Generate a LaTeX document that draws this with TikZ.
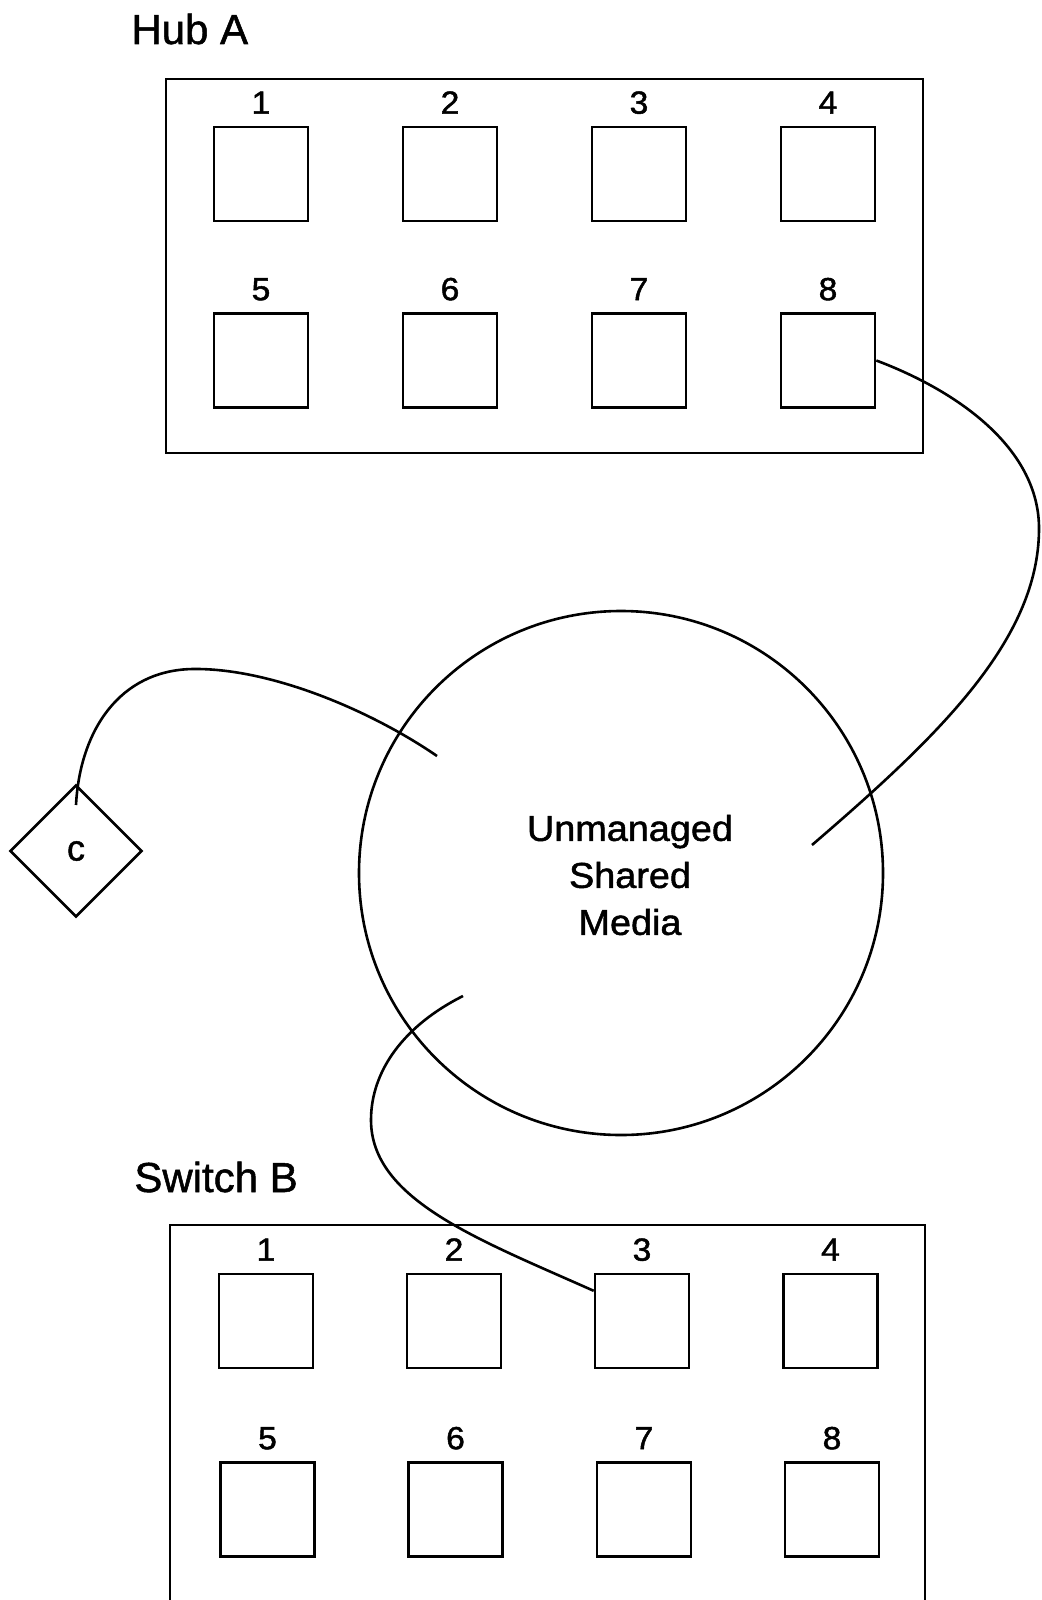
\documentclass[tikz,border=0pt]{standalone}
\usepackage{fontspec}
\setmainfont[FakeBold=1.4]{Liberation Sans}
\newfontfamily\widefont[FakeStretch=1.05,FakeBold=1.4]{Liberation Sans}
\newfontfamily\boldishfont[FakeBold=1.2]{Liberation Sans}
\usetikzlibrary{shapes.geometric,calc}
\begin{document}
\begin{tikzpicture}[x=0.5pt,y=-0.5pt,
  port/.style={draw, line width=1.3pt, minimum width=47pt, minimum height=47pt, inner sep=0pt},
  frame/.style={draw, line width=1.3pt, inner sep=0pt},
  num/.style={inner sep=0pt, anchor=base, font=\widefont\fontsize{16pt}{18pt}\selectfont},
  title/.style={inner sep=0pt, anchor=base west, font=\boldishfont\fontsize{21pt}{25pt}\selectfont},
  wire/.style={line width=1.3pt}]
\clip (0,0) rectangle (1042,1600);
% Hub A
\node[title] (hubA) at (131,44) {Hub A};
\node[frame, minimum width=378.5pt, minimum height=187pt] (hub) at (544.5,266) {};
\foreach \i/\x/\y in {1/261/174,2/450/174,3/639/174,4/828/174,5/261/360.5,6/450/360.5,7/639/360.5,8/828/360.5}{
  \node[port] (h\i) at (\x,\y) {};
  \node[num] (hl\i) at ($(h\i.north)+(0,-12)$) {\i};
}
% Switch B
\node[title] (swB) at (134,1192) {Switch B};
\node[frame, minimum width=377.5pt, minimum height=207.5pt] (sw) at (547.5,1432.5) {};
\foreach \i/\x/\y in {1/266/1321,2/454/1321,3/642/1321,4/830.5/1321,5/267.5/1509.5,6/455.5/1509.5,7/644/1509.5,8/832/1509.5}{
  \node[port] (s\i) at (\x,\y) {};
  \node[num] (sl\i) at ($(s\i.north)+(0,-12)$) {\i};
}
% Shared media
\node[draw, circle, minimum size=262pt, inner sep=0pt, line width=1.3pt] (media) at (621,873) {};
\node[align=center, inner sep=0pt, font=\widefont\fontsize{18pt}{23.5pt}\selectfont] (mediatext) at (630,875) {Unmanaged\\Shared\\Media};
% Station c
\node[draw, diamond, aspect=1, minimum width=66pt, minimum height=66pt, inner sep=0pt, line width=1.3pt, font=\boldishfont\fontsize{18pt}{20pt}\selectfont] (c) at (76,851) {c};
% Cable ends
\coordinate (ctail) at (76,805);
\coordinate (mA) at (437,756);
\coordinate (mB) at (812,845);
\coordinate (mC) at (463,996);
\draw[wire] (ctail) .. controls (80,730) and (120,670) .. (193,669) .. controls (270,668) and (370,710) .. (mA);
\draw[wire] (h8.east) .. controls (960,392) and (1040,450) .. (1039,530) .. controls (1038,640) and (940,735) .. (mB);
\draw[wire] (mC) .. controls (405,1025) and (371,1070) .. (371,1120) .. controls (371,1200) and (480,1240) .. (s3.148);
\end{tikzpicture}
\end{document}
